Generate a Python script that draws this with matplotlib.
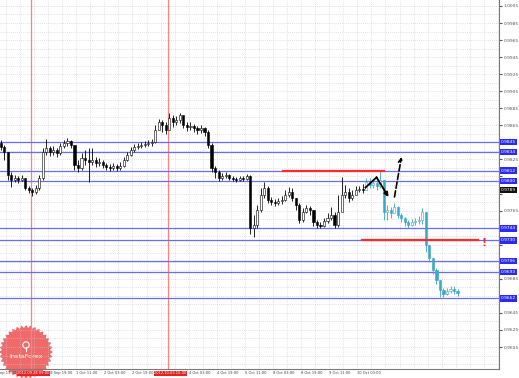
import numpy as np
import matplotlib.pyplot as plt
from matplotlib.transforms import blended_transform_factory
from matplotlib.patches import Polygon, Circle

# H1 chart squeezed to 2-hour candles
first_open = 0.9844
closes = [
    0.9840, 0.9834, 0.9807, 0.9801, 0.9803, 0.9801, 0.9803, 0.9792, 0.9789, 0.9787,
    0.9792, 0.9803, 0.9834, 0.9838, 0.9834, 0.9836, 0.9833, 0.9841, 0.9844, 0.9847,
    0.9842, 0.9819, 0.9815, 0.9827, 0.9824, 0.9822, 0.9824, 0.9821, 0.9822, 0.9819,
    0.9816, 0.9815, 0.9817, 0.9815, 0.9817, 0.9824, 0.9830, 0.9836, 0.9840, 0.9841,
    0.9842, 0.9843, 0.9844, 0.9846, 0.9860, 0.9869, 0.9865, 0.9860, 0.9874, 0.9869,
    0.9871, 0.9877, 0.9865, 0.9863, 0.9864, 0.9862, 0.9860, 0.9862, 0.9857, 0.9842,
    0.9815, 0.9810, 0.9803, 0.9806, 0.9807, 0.9803, 0.9802, 0.9801, 0.9803, 0.9802,
    0.9806, 0.9745, 0.9748, 0.9766, 0.9783, 0.9792, 0.9777, 0.9775, 0.9774, 0.9776,
    0.9777, 0.9783, 0.9787, 0.9780, 0.9772, 0.9754, 0.9763, 0.9768, 0.9766, 0.9752,
    0.9748, 0.9747, 0.9753, 0.9756, 0.9760, 0.9748, 0.9763, 0.9783, 0.9787, 0.9780,
    0.9783, 0.9789, 0.9790, 0.9789,
    # projected path (cyan)
    0.9799, 0.9795, 0.9797, 0.9794, 0.9801, 0.9763, 0.9766, 0.9762, 0.9769, 0.9760,
    0.9756, 0.9752, 0.9748, 0.9752, 0.9753, 0.9754, 0.9763, 0.9725, 0.9709, 0.9695,
    0.9684, 0.9672, 0.9667, 0.9671, 0.9673, 0.9671, 0.9668,
]
highs = [
    0.9848, 0.9842, 0.9834, 0.9810, 0.9807, 0.9806, 0.9807, 0.9803, 0.9794, 0.9792,
    0.9795, 0.9807, 0.9838, 0.9849, 0.9841, 0.9841, 0.9838, 0.9844, 0.9848, 0.9850,
    0.9848, 0.9842, 0.9824, 0.9833, 0.9836, 0.9838, 0.9838, 0.9828, 0.9827, 0.9824,
    0.9821, 0.9820, 0.9821, 0.9820, 0.9822, 0.9828, 0.9834, 0.9840, 0.9843, 0.9844,
    0.9846, 0.9847, 0.9848, 0.9849, 0.9865, 0.9872, 0.9871, 0.9869, 0.9880, 0.9877,
    0.9876, 0.9880, 0.9874, 0.9869, 0.9869, 0.9867, 0.9864, 0.9865, 0.9863, 0.9860,
    0.9844, 0.9817, 0.9813, 0.9809, 0.9810, 0.9808, 0.9806, 0.9804, 0.9806, 0.9806,
    0.9808, 0.9807, 0.9760, 0.9772, 0.9792, 0.9799, 0.9794, 0.9781, 0.9779, 0.9780,
    0.9782, 0.9789, 0.9793, 0.9792, 0.9780, 0.9774, 0.9768, 0.9772, 0.9770, 0.9766,
    0.9754, 0.9752, 0.9756, 0.9762, 0.9769, 0.9763, 0.9783, 0.9804, 0.9795, 0.9792,
    0.9789, 0.9794, 0.9794, 0.9796,
    0.9803, 0.9803, 0.9802, 0.9801, 0.9813, 0.9801, 0.9772, 0.9769, 0.9774, 0.9770,
    0.9762, 0.9757, 0.9754, 0.9755, 0.9756, 0.9759, 0.9768, 0.9763, 0.9725, 0.9709,
    0.9698, 0.9684, 0.9674, 0.9674, 0.9677, 0.9676, 0.9673,
]
lows = [
    0.9836, 0.9824, 0.9801, 0.9793, 0.9799, 0.9797, 0.9800, 0.9789, 0.9786, 0.9782,
    0.9784, 0.9789, 0.9801, 0.9830, 0.9829, 0.9830, 0.9828, 0.9830, 0.9838, 0.9841,
    0.9838, 0.9813, 0.9810, 0.9813, 0.9819, 0.9799, 0.9819, 0.9816, 0.9817, 0.9815,
    0.9813, 0.9811, 0.9813, 0.9811, 0.9813, 0.9816, 0.9823, 0.9829, 0.9834, 0.9837,
    0.9838, 0.9840, 0.9841, 0.9841, 0.9844, 0.9862, 0.9857, 0.9855, 0.9862, 0.9863,
    0.9865, 0.9868, 0.9862, 0.9858, 0.9860, 0.9857, 0.9855, 0.9856, 0.9853, 0.9838,
    0.9810, 0.9803, 0.9800, 0.9801, 0.9803, 0.9801, 0.9800, 0.9799, 0.9800, 0.9800,
    0.9801, 0.9738, 0.9734, 0.9745, 0.9763, 0.9780, 0.9774, 0.9772, 0.9770, 0.9772,
    0.9773, 0.9776, 0.9781, 0.9776, 0.9766, 0.9750, 0.9752, 0.9762, 0.9760, 0.9747,
    0.9745, 0.9745, 0.9746, 0.9750, 0.9754, 0.9745, 0.9746, 0.9777, 0.9780, 0.9775,
    0.9777, 0.9784, 0.9787, 0.9786,
    0.9789, 0.9792, 0.9792, 0.9789, 0.9792, 0.9754, 0.9754, 0.9756, 0.9763, 0.9756,
    0.9752, 0.9747, 0.9745, 0.9747, 0.9748, 0.9749, 0.9749, 0.9716, 0.9705, 0.9691,
    0.9679, 0.9664, 0.9664, 0.9666, 0.9668, 0.9667, 0.9665,
]
n_hist = 104  # black candles, the rest is the projection

# hours of trading time counted from 28 Sep 03:00
# (the 28 Sep 03:00 and 3 Oct 11:00 labels sit under the red time boxes)
time_ticks = [-16, 16, 32, 48, 64, 96, 112, 128, 144, 160, 176, 192]
time_labels = ["27 Sep 11:00", "28 Sep 19:00", "1 Oct 11:00",
               "2 Oct 03:00", "2 Oct 19:00", "4 Oct 03:00",
               "4 Oct 19:00", "5 Oct 11:00", "8 Oct 03:00", "8 Oct 19:00",
               "9 Oct 11:00", "10 Oct 03:00"]
vlines_t = [6, 84]
vlines_lbl = ["2012.09.28 09:00", "2012.10.03 15:00"]

blue_levels = [0.9845, 0.9834, 0.9812, 0.9800, 0.9744, 0.9730, 0.9706, 0.9693, 0.9662]
red_lines = [(149.7, 207.4, 0.9812), (194.9, 260.6, 0.9730)]
zigzag_t = [196.6, 202.9, 209.7]
zigzag_p = [0.9792, 0.9804, 0.9781]
dash_t = [213.1, 217.1]
dash_p = [0.9781, 0.9828]

price_ticks = np.round(np.arange(0.9605, 1.00051, 0.0020), 4)

opens = [first_open] + closes[:-1]
t = np.arange(len(closes)) * 2 - 11
last = closes[n_hist - 1]

narrow = ["Liberation Sans Narrow", "DejaVu Sans"]

W, H = 519, 378
fig = plt.figure(figsize=(W / 100, H / 100), dpi=100)
fig.patch.set_facecolor("white")

# watermark seal, drawn under the chart
wax = fig.add_axes([0, 0, 60 / W, 60 / H], zorder=0)
wax.set_xlim(0, 60)
wax.set_ylim(0, 60)
wax.axis("off")
ang = np.linspace(0, 2 * np.pi, 72, endpoint=False)
rad = np.where(np.arange(72) % 2 == 0, 27, 24)
wax.add_patch(Polygon(np.column_stack([26 + rad * np.cos(ang), 26 + rad * np.sin(ang)]),
                      closed=True, fc="#ef5a5a", ec="none", alpha=0.9))
wax.add_patch(Circle((26, 33), 3.2, fc="none", ec="white", lw=0.8))
wax.plot([26, 26], [27, 31], color="white", lw=0.8)
wax.text(26, 21, "InstaForex", color="white", fontsize=4.6, ha="center", va="center")

ax = fig.add_axes([0, 9 / H, 499 / W, 369 / H], zorder=1)
ax.patch.set_alpha(0)
ax.set_xlim(-11.4, 272.6)
ax.set_ylim(0.95792, 1.0012)

# grid
for p in np.arange(0.9585, 1.0015, 0.0010):
    ax.axhline(p, color="#c8c8c8", lw=0.5, ls=(0, (1, 2)), zorder=0)
for h in np.arange(-16, 280, 8):
    ax.axvline(h, color="#c8c8c8", lw=0.5, ls=(0, (1, 2)), zorder=0)

for tv in vlines_t:
    ax.axvline(tv, color="#ff8080", lw=0.9, zorder=1)
for lv in blue_levels:
    ax.axhline(lv, color="#6a6aff", lw=0.9, zorder=1)

# candles
for i in range(len(closes)):
    o, c = opens[i], closes[i]
    col = "black" if i < n_hist else "#3aa6c8"
    ax.vlines(t[i], lows[i], highs[i], color=col, lw=0.6, zorder=3)
    lo, hi = min(o, c), max(o, c)
    ax.bar(t[i], max(hi - lo, 0.00003), bottom=lo, width=1.2,
           color="white" if c >= o else col, edgecolor=col, lw=0.4, zorder=4)

for t0, t1, lv in red_lines:
    ax.plot([t0, t1], [lv, lv], color="#ff2a2a", lw=1.6, zorder=5)
ax.text(264, 0.9727, "!", color="#ff2a2a", fontsize=8, fontweight="bold",
        ha="center", va="center", zorder=5)

ax.plot(zigzag_t[:2], zigzag_p[:2], color="black", lw=1.3, zorder=6)
ax.annotate("", xy=(zigzag_t[2], zigzag_p[2]), xytext=(zigzag_t[1], zigzag_p[1]),
            arrowprops=dict(arrowstyle="-|>", color="black", lw=1.3,
                            mutation_scale=6, shrinkA=0, shrinkB=0), zorder=6)
ax.annotate("", xy=(dash_t[1], dash_p[1]), xytext=(dash_t[0], dash_p[0]),
            arrowprops=dict(arrowstyle="->", color="black", lw=1.2, ls="--",
                            mutation_scale=7, shrinkA=0, shrinkB=0), zorder=6)

# axes frame
for s in ["left", "top"]:
    ax.spines[s].set_visible(False)
for s in ["right", "bottom"]:
    ax.spines[s].set_color("#7a7a7a")
    ax.spines[s].set_linewidth(0.8)

# price scale labels, those hidden behind the level boxes are left blank
boxed = blue_levels + [last]
ylabels = ["" if min(abs(p - b) for b in boxed) < 0.0006 else f"{p:.4f}"
           for p in price_ticks]
ax.yaxis.tick_right()
ax.set_yticks(price_ticks, ylabels)
ax.tick_params(axis="y", labelsize=3.2, length=2, pad=1.5, colors="#555555")
for lab in ax.get_yticklabels():
    lab.set_family(narrow)
ax.set_xticks([])

tr = blended_transform_factory(ax.transData, ax.transAxes)
for h, lbl in zip(time_ticks, time_labels):
    ax.text(h, -0.006, lbl, transform=tr, fontsize=2.6, color="#404040",
            family=narrow, ha="left", va="top", clip_on=False)
for h, lbl in zip(vlines_t, vlines_lbl):
    ax.text(h + 1.5, -0.006, lbl, transform=tr, fontsize=2.6, color="white",
            family=narrow, ha="center", va="top", clip_on=False, zorder=8,
            bbox=dict(boxstyle="square,pad=0.1", fc="#e52222", ec="none"))

tr_y = blended_transform_factory(ax.transAxes, ax.transData)
for lv in blue_levels:
    ax.text(1.004, lv, f"{lv:.4f}", transform=tr_y, fontsize=3.2, color="white",
            family=narrow, ha="left", va="center", clip_on=False, zorder=8,
            bbox=dict(boxstyle="square,pad=0.25", fc="#2b2bf0", ec="none"))
ax.text(1.004, last, f"{last:.4f}", transform=tr_y, fontsize=3.2, color="white",
        family=narrow, ha="left", va="center", clip_on=False, zorder=8,
        bbox=dict(boxstyle="square,pad=0.25", fc="#111111", ec="none"))

fig.savefig("out.png", dpi=100)
